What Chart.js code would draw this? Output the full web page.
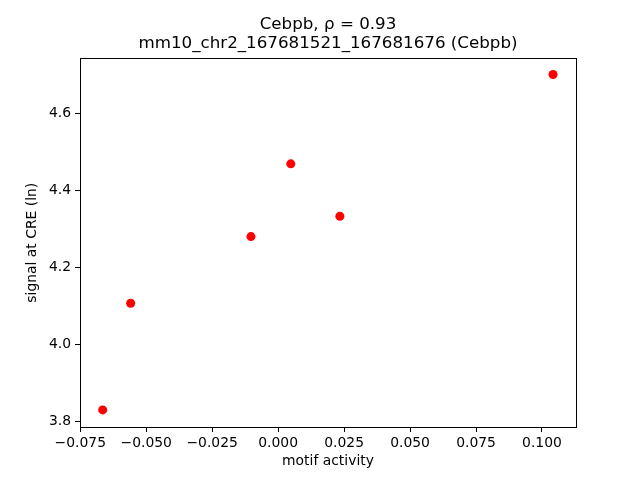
<!DOCTYPE html>
<html>
<head>
<meta charset="utf-8">
<script src="https://cdn.jsdelivr.net/npm/chart.js@4/dist/chart.umd.min.js"></script>
<style>
html,body{margin:0;padding:0;background:#fff;}
#wrap{width:640px;height:480px;}
</style>
</head>
<body>
<div id="wrap"><canvas id="c" width="640" height="480"></canvas></div>
<script>
// Data
const motifActivity = [-0.0665, -0.0559, -0.0103, 0.0048, 0.0234, 0.1042];
const signalAtCRE   = [3.830, 4.107, 4.280, 4.469, 4.333, 4.701];
const xTicks = [-0.075, -0.050, -0.025, 0.000, 0.025, 0.050, 0.075, 0.100];
const yTicks = [3.8, 4.0, 4.2, 4.4, 4.6];
const titleLines = ['Cebpb, \u03C1 = 0.93', 'mm10_chr2_167681521_167681676 (Cebpb)'];
const xLabel = 'motif activity';
const yLabel = 'signal at CRE (ln)';

const points = motifActivity.map((x, i) => ({x: x, y: signalAtCRE[i]}));
const fmtMinus = s => s.replace('-', '\u2212');

const boxPlugin = {
  id: 'box',
  afterLayout(chart) {
    // centre the title over the plotting area, as matplotlib does
    const tb = chart.titleBlock;
    if (tb) { tb.left = chart.chartArea.left; tb.right = chart.chartArea.right; }
  },
  afterDraw(chart) {
    const {ctx, chartArea: a} = chart;
    ctx.save();
    ctx.strokeStyle = '#000';
    ctx.lineWidth = 1;
    ctx.strokeRect(Math.round(a.left) + 0.5, Math.round(a.top) + 0.5,
                   Math.round(a.right - a.left), Math.round(a.bottom - a.top));
    ctx.restore();
  }
};

Chart.defaults.font.family = '"DejaVu Sans", sans-serif';
Chart.defaults.color = '#000';

new Chart(document.getElementById('c'), {
  type: 'scatter',
  data: {
    datasets: [{
      data: points,
      backgroundColor: '#ff0000',
      borderColor: '#ff0000',
      borderWidth: 0,
      pointRadius: 4.5,
      pointHoverRadius: 4.5
    }]
  },
  options: {
    responsive: false,
    animation: false,
    events: [],
    layout: { padding: { left: 0, right: 64, top: 0, bottom: 0 } },
    plugins: {
      legend: { display: false },
      tooltip: { enabled: false },
      title: {
        display: true,
        text: titleLines,
        color: '#000',
        font: { size: 16.7, weight: 'normal', lineHeight: 1.15 },
        padding: { top: 15, bottom: 5 }
      }
    },
    scales: {
      x: {
        type: 'linear',
        min: -0.0751,
        max: 0.1129,
        afterBuildTicks: s => { s.ticks = xTicks.map(v => ({value: v})); },
        afterFit: s => { s.height = 53; },
        ticks: {
          font: { size: 13.9 },
          color: '#000',
          padding: 3,
          maxRotation: 0,
          autoSkip: false,
          callback: v => fmtMinus(Number(v).toFixed(3))
        },
        grid: { drawOnChartArea: false, drawTicks: true, tickLength: 5, color: '#000', tickColor: '#000' },
        border: { display: true, color: '#000', width: 1 },
        title: {
          display: true,
          text: xLabel,
          font: { size: 13.9 },
          color: '#000',
          padding: { top: 0, bottom: 10 }
        }
      },
      y: {
        type: 'linear',
        min: 3.7857,
        max: 4.7427,
        afterBuildTicks: s => { s.ticks = yTicks.map(v => ({value: v})); },
        afterFit: s => { s.width = 80; },
        ticks: {
          font: { size: 13.9 },
          color: '#000',
          padding: 4,
          autoSkip: false,
          callback: v => Number(v).toFixed(1)
        },
        grid: { drawOnChartArea: false, drawTicks: true, tickLength: 5, color: '#000', tickColor: '#000' },
        border: { display: true, color: '#000', width: 1 },
        title: {
          display: true,
          text: yLabel,
          font: { size: 13.9 },
          color: '#000',
          padding: { top: 24, bottom: 0 }
        }
      }
    }
  },
  plugins: [boxPlugin]
});
</script>
</body>
</html>
